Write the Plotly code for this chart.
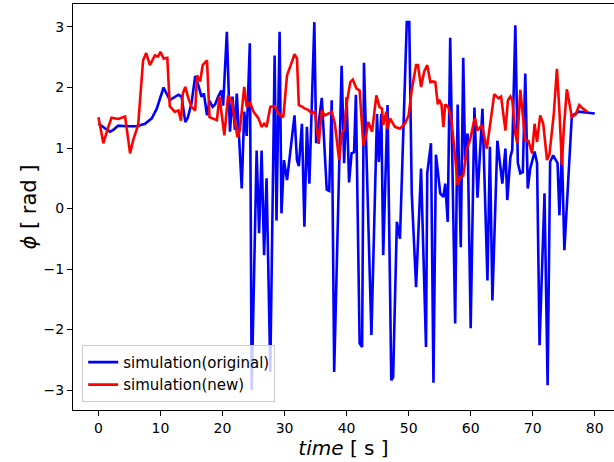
import plotly.graph_objects as go

# blue: simulation(original)
t_orig = [0.0, 0.77, 1.85, 2.4, 3.2, 4.5, 6.2, 7.5, 8.6, 9.4, 10.5, 11.5, 12.3, 12.9, 13.4,
          14.0, 14.4, 15.0, 15.6, 16.1, 16.6, 17.0, 17.5, 17.9, 18.4, 18.8, 19.3, 19.8, 20.1,
          20.7, 21.2, 21.6, 22.0, 22.3, 23.1, 23.5, 23.9, 24.4, 24.7, 25.5, 25.9, 26.3, 26.7,
          27.1, 27.7, 28.4, 28.7, 29.2, 29.5, 29.9, 30.4, 30.9, 31.6, 32.0, 32.3, 32.8, 33.2,
          33.6, 34.0, 34.8, 35.1, 36.0, 36.8, 37.2, 37.6, 38.0, 39.2, 39.6, 40.0, 40.4, 40.8,
          41.2, 41.5, 42.1, 42.5, 42.8, 44.0, 44.9, 45.2, 45.6, 45.9, 46.6, 47.2, 47.5, 48.1,
          48.6, 49.7, 50.1, 50.5, 51.2, 52.0, 52.8, 53.0, 53.6, 54.0, 54.4, 55.1, 55.6, 55.9,
          56.3, 56.7, 57.5, 57.9, 58.4, 58.8, 59.1, 59.5, 60.0, 60.6, 61.1, 61.9, 62.7, 63.1,
          63.5, 64.3, 65.1, 65.6, 65.9, 66.4, 66.7, 67.2, 67.6, 68.0, 68.4, 68.8, 69.2, 69.6,
          70.3, 70.7, 71.1, 71.9, 72.4, 72.8, 73.3, 74.0, 74.3, 74.7, 75.1, 75.7, 76.3, 77.4,
          80.0]
phi_orig = [1.40, 1.35, 1.27, 1.30, 1.37, 1.36, 1.36, 1.40, 1.49, 1.65, 2.00, 1.79, 1.85, 1.88, 1.85,
            1.43, 1.50, 1.74, 2.19, 2.04, 1.85, 1.90, 1.54, 1.78, 1.68, 1.72, 1.85, 1.95, 1.70,
            2.92, 1.27, 1.85, 1.30, 1.90, 0.33, 1.60, 1.20, 2.73, -3.00, 0.96, -0.41, 0.96, -0.77,
            0.50, -2.70, 2.53, -0.20, 2.92, -0.08, 0.80, 0.47, 0.90, 1.54, 0.80, 0.70, 1.40, -0.30,
            1.35, 0.41, 3.08, 1.08, 1.83, 0.31, 0.29, 1.79, -2.70, 2.36, 0.75, 1.84, 0.43, 0.91,
            0.93, 1.88, -2.23, -2.29, 2.41, -2.09, 1.56, 0.77, 1.56, -0.77, 1.71, -2.84, -2.79, -0.22,
            -0.50, 3.08, 3.08, 0.25, -1.30, 0.66, -2.29, 0.59, 1.08, -2.88, 0.89, 0.25, 0.19, 0.41,
            -0.22, 2.82, -1.90, 1.72, -0.64, 2.49, 0.80, 1.24, -1.98, 1.67, 0.18, 1.65, -1.19, 1.02,
            -1.52, 1.12, 0.41, 0.99, 0.14, 0.85, 0.97, 3.03, 0.75, 0.58, 0.60, 2.23, 0.33, 0.66,
            0.94, 0.75, -2.26, 0.25, -2.92, 0.77, 0.88, 0.75, -0.11, 0.97, -0.69, 0.50, 1.53, 1.60,
            1.57]

# red: simulation(new)
t_new = [0.0, 0.8, 1.6, 2.1, 3.2, 3.7, 4.3, 5.1, 5.6, 6.4, 7.2, 7.7, 8.3, 9.1, 9.6, 10.0, 10.5,
         11.1, 11.5, 12.3, 12.9, 13.3, 13.6, 14.0, 14.5, 15.0, 15.6, 15.9, 16.4, 16.8, 17.5, 17.9,
         19.1, 19.5, 19.8, 20.3, 20.9, 21.5, 21.7, 22.4, 22.8, 23.5, 23.9, 24.4, 25.0, 25.8, 26.3,
         26.7, 27.1, 27.7, 28.4, 29.0, 29.8, 30.4, 31.0, 31.6, 32.0, 32.3, 32.9, 33.3, 33.8, 34.4,
         34.9, 35.5, 36.0, 36.5, 37.1, 37.6, 38.1, 38.8, 39.2, 39.6, 40.0, 40.6, 41.0, 41.6, 42.1,
         42.5, 42.7, 43.1, 43.5, 44.1, 44.8, 45.3, 45.7, 45.9, 46.4, 46.6, 47.0, 47.8, 48.6, 49.4,
         50.0, 50.5, 51.2, 51.5, 52.0, 52.5, 53.0, 53.5, 53.9, 54.3, 54.7, 54.9, 55.3, 55.6, 55.9,
         56.4, 56.9, 57.5, 57.9, 58.3, 58.8, 59.4, 59.9, 60.5, 60.7, 61.1, 61.8, 62.6, 63.1, 63.8,
         64.5, 64.9, 65.6, 66.0, 66.4, 66.7, 67.2, 67.5, 68.0, 68.4, 68.8, 69.3, 69.9, 70.3, 70.7,
         71.2, 71.7, 72.3, 72.7, 73.4, 73.9, 74.3, 74.7, 75.0, 75.5, 75.9, 76.3, 76.9, 77.5, 78.1,
         78.8]
phi_new = [1.51, 1.08, 1.35, 1.50, 1.48, 1.50, 1.52, 0.91, 1.13, 1.38, 2.45, 2.57, 2.37, 2.53, 2.51,
           2.59, 2.48, 2.49, 1.69, 1.60, 1.62, 1.45, 1.90, 2.01, 1.82, 1.68, 1.62, 2.20, 2.10, 2.37,
           2.45, 1.51, 1.46, 1.85, 1.60, 1.21, 1.87, 1.78, 1.64, 1.18, 1.30, 2.01, 1.68, 1.76, 1.60,
           1.49, 1.35, 1.40, 1.35, 1.68, 1.69, 1.57, 1.51, 2.20, 2.37, 2.55, 2.48, 1.71, 1.68, 1.65,
           1.63, 1.57, 1.60, 1.07, 1.62, 1.54, 1.57, 1.60, 1.41, 0.80, 1.24, 1.30, 1.73, 2.09, 2.13,
           1.98, 1.95, 1.35, 1.05, 1.20, 1.43, 1.27, 1.87, 1.68, 1.65, 1.38, 1.60, 1.32, 1.49, 1.35,
           1.32, 1.40, 1.54, 1.96, 2.37, 2.37, 2.01, 2.26, 2.37, 2.09, 2.10, 2.09, 1.72, 1.80, 1.72,
           1.35, 1.72, 1.68, 1.46, 0.85, 0.39, 0.52, 0.54, 0.99, 1.13, 1.43, 1.49, 1.29, 1.38, 0.99,
           1.40, 1.89, 1.82, 1.85, 1.29, 1.79, 1.85, 1.79, 1.24, 1.08, 1.96, 1.51, 1.13, 1.12, 0.91,
           1.40, 1.10, 1.54, 1.40, 0.80, 0.90, 1.57, 2.31, 1.62, 0.72, 1.30, 1.97, 1.75, 1.51, 1.55,
           1.71, 1.65, 1.60]

x_ticks = [0, 10, 20, 30, 40, 50, 60, 70, 80]
y_ticks = [-3, -2, -1, 0, 1, 2, 3]

fig = go.Figure()
fig.add_trace(go.Scatter(x=t_orig, y=phi_orig, mode="lines", name="simulation(original)",
                         line=dict(color="#0000ff", width=2.6)))
fig.add_trace(go.Scatter(x=t_new, y=phi_new, mode="lines", name="simulation(new)",
                         line=dict(color="#ff0000", width=2.6)))

font = "DejaVu Sans"
fig.update_layout(
    width=614, height=462,
    margin=dict(l=73, r=0, t=4, b=52),
    paper_bgcolor="white", plot_bgcolor="white",
    font=dict(family=font, size=14, color="black"),
    showlegend=True,
    legend=dict(x=0.017, y=0.02, xanchor="left", yanchor="bottom",
                bgcolor="rgba(255,255,255,0.8)", bordercolor="#cccccc", borderwidth=1,
                font=dict(family=font, size=15), tracegroupgap=0, itemwidth=30),
)
fig.update_xaxes(range=[-4.1, 83.1], tickvals=x_ticks, ticks="outside", ticklen=5,
                 tickwidth=1, tickcolor="black", showline=True, linecolor="black", linewidth=1,
                 mirror=True, showgrid=False, zeroline=False,
                 title=dict(text="<i>time</i> [ s ]", font=dict(family=font, size=20), standoff=6))
fig.update_yaxes(range=[-3.33, 3.38], tickvals=y_ticks, ticks="outside", ticklen=5,
                 tickwidth=1, tickcolor="black", showline=True, linecolor="black", linewidth=1,
                 mirror=False, showgrid=False, zeroline=False,
                 title=dict(text="<i>ϕ</i> [ rad ]", font=dict(family=font, size=21), standoff=1))
fig.write_html("out.html")
